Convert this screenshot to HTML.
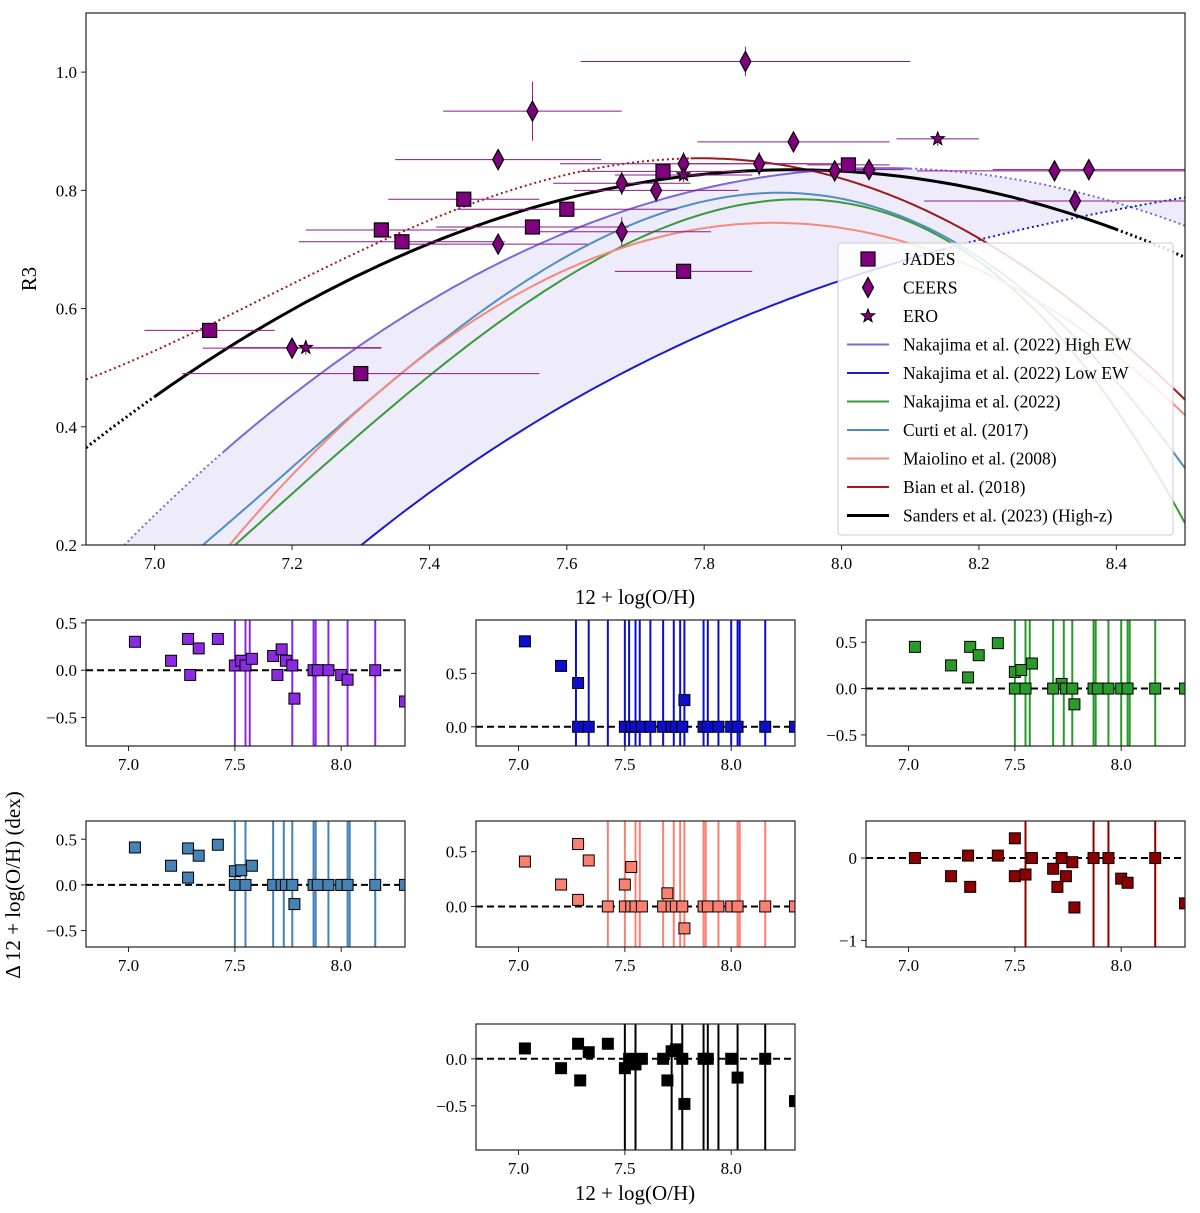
<!DOCTYPE html>
<html><head><meta charset="utf-8">
<style>
body{margin:0;background:#fff;}
svg{display:block;font-family:"Liberation Serif","DejaVu Serif",serif;}
</style></head>
<body>
<svg id="fig" width="1200" height="1213" viewBox="0 0 1200 1213" xmlns="http://www.w3.org/2000/svg">
<defs>
<clipPath id="mainclip"><rect x="86" y="13" width="1099" height="532"/></clipPath>
</defs>
<g id="main"></g>
<g id="panels"></g>
<text x="20" y="885" transform="rotate(-90 20 885)" text-anchor="middle" font-size="21">Δ 12 + log(O/H) (dex)</text>
</svg>
<script>
// ---------- main chart data ----------
const jadesX=[7.08,7.30,7.33,7.36,7.45,7.55,7.60,7.74,7.77,8.01];
const jadesY=[0.563,0.49,0.733,0.713,0.785,0.738,0.768,0.832,0.663,0.843];
const jadesXerr=[0.095,0.26,0.11,0.15,0.11,0.14,0.16,0.12,0.1,0.06];
const ceersX=[7.20,7.50,7.50,7.55,7.68,7.68,7.73,7.77,7.86,7.88,7.93,7.99,8.04,8.31,8.34,8.36];
const ceersY=[0.533,0.709,0.852,0.934,0.73,0.812,0.80,0.845,1.018,0.845,0.882,0.833,0.835,0.833,0.782,0.835];
const ceersXerr=[0.13,0.13,0.15,0.13,0.13,0.1,0.12,0.18,0.24,0.12,0.14,0.06,0.05,0.2,0.22,0.14];
const ceersYerr=[0.01,0.01,0.015,0.05,0.025,0.02,0.02,0.02,0.025,0.02,0.015,0.015,0.015,0.015,0.015,0.015];
const eroX=[7.22,7.77,8.14];
const eroY=[0.534,0.826,0.887];
const eroXerr=[0.11,0.1,0.06];
// calibration curves: anchor points (OH, R3)
const curveNames=["Nakajima et al. (2022) High EW","Nakajima et al. (2022) Low EW","Nakajima et al. (2022)","Curti et al. (2017)","Maiolino et al. (2008)","Bian et al. (2018)","Sanders et al. (2023) (High-z)"];
const curveColors=["#7b68d9","#1a1ad0","#3a9a3a","#4f8fc0","#f28b7c","#a01818","#000000"];
const curveAnchorX=[[6.956,7.245,7.774,8.5],[7.301,7.513,7.995,8.5],[7.117,7.407,7.774,8.168,8.5],[7.07,7.362,7.774,8.165,8.5],[7.109,7.362,7.774,8.165,8.5],[6.9,7.234,7.72,8.22,8.5],[7.0,7.346,7.774,8.4]];
const curveAnchorY=[[0.2,0.493,0.796,0.74],[0.2,0.378,0.646,0.788],[0.2,0.493,0.751,0.705,0.237],[0.2,0.493,0.774,0.712,0.33],[0.2,0.493,0.731,0.683,0.42],[0.48,0.661,0.85,0.705,0.446],[0.451,0.683,0.824,0.734]];
const curveSolidFrom=[7.1,6.9,6.9,6.9,6.9,7.78,7.0];
const curveSolidTo=[8.1,8.15,8.5,8.5,8.5,8.5,8.4];
const curveWidths=[2,2,2,2,2,2,3];

// ---------- residual panels data ----------
const panelColors=["#8a2be2","#0d0dcc","#2a9a2a","#4682b4","#fa8072","#8b0000","#000000"];
const panelYmin=[-0.8,-0.18,-0.62,-0.68,-0.37,-1.08,-0.97];
const panelYmax=[0.53,1.0,0.74,0.70,0.78,0.45,0.37];
const panelYticks=[[-0.5,0,0.5],[0,0.5],[-0.5,0,0.5],[-0.5,0,0.5],[0,0.5],[-1,0],[-0.5,0]];
const panelYtickLabels=[["−0.5","0.0","0.5"],["0.0","0.5"],["−0.5","0.0","0.5"],["−0.5","0.0","0.5"],["0.0","0.5"],["−1","0"],["−0.5","0.0"]];
const panelPtX=[
[7.03,7.2,7.28,7.29,7.33,7.42,7.5,7.53,7.55,7.58,7.68,7.72,7.74,7.77,7.78,7.7,7.87,7.89,7.94,8.0,8.03,8.16,8.3],
[7.03,7.2,7.28,7.78,7.28,7.33,7.5,7.53,7.55,7.58,7.62,7.68,7.72,7.74,7.77,7.87,7.89,7.94,8.0,8.03,8.16,8.3],
[7.03,7.2,7.28,7.29,7.33,7.42,7.5,7.53,7.58,7.72,7.78,7.5,7.55,7.68,7.74,7.77,7.87,7.89,7.94,8.0,8.03,8.16,8.3],
[7.03,7.2,7.28,7.28,7.33,7.42,7.5,7.53,7.58,7.78,7.5,7.55,7.68,7.72,7.74,7.77,7.87,7.89,7.94,8.0,8.03,8.16,8.3],
[7.03,7.2,7.28,7.28,7.33,7.5,7.53,7.7,7.78,7.42,7.5,7.53,7.55,7.58,7.68,7.72,7.74,7.77,7.87,7.89,7.94,8.0,8.03,8.16,8.3],
[7.03,7.2,7.28,7.29,7.42,7.5,7.5,7.55,7.58,7.68,7.7,7.72,7.74,7.77,7.78,7.87,7.94,8.0,8.03,8.16,8.3],
[7.03,7.2,7.28,7.29,7.33,7.42,7.5,7.52,7.55,7.58,7.68,7.7,7.72,7.74,7.77,7.78,7.87,7.89,8.0,8.03,8.16,8.3]];
const panelPtY=[
[0.3,0.1,0.33,-0.05,0.23,0.33,0.05,0.1,0.05,0.12,0.15,0.22,0.1,0.05,-0.3,-0.05,0,0,0,-0.05,-0.1,0,-0.33],
[0.8,0.57,0.41,0.25,0,0,0,0,0,0,0,0,0,0,0,0,0,0,0,0,0,0],
[0.45,0.25,0.12,0.45,0.36,0.49,0.18,0.2,0.27,0.05,-0.17,0,0,0,0,0,0,0,0,0,0,0,0],
[0.41,0.21,0.08,0.4,0.32,0.44,0.15,0.16,0.21,-0.21,0,0,0,0,0,0,0,0,0,0,0,0,0],
[0.41,0.2,0.57,0.06,0.42,0.2,0.36,0.12,-0.2,0,0,0,0,0,0,0,0,0,0,0,0,0,0,0,0],
[0,-0.22,0.03,-0.35,0.03,-0.22,0.24,-0.2,0,-0.13,-0.35,0,-0.22,-0.05,-0.6,0,0,-0.25,-0.3,0,-0.55],
[0.11,-0.1,0.16,-0.23,0.07,0.16,-0.1,0,-0.06,0,0,-0.23,0.08,0.1,0,-0.48,0,0,0,-0.2,0,-0.45]];
const panelLines=[
[7.5,7.55,7.57,7.77,7.87,7.88,7.94,8.03,8.16],
[7.27,7.33,7.42,7.5,7.52,7.55,7.57,7.62,7.68,7.73,7.76,7.78,7.87,7.89,7.94,8.0,8.03,8.04,8.16],
[7.5,7.55,7.57,7.68,7.73,7.77,7.87,7.88,7.94,8.0,8.03,8.04,8.16],
[7.5,7.55,7.68,7.73,7.77,7.87,7.88,7.94,8.03,8.04,8.16],
[7.42,7.5,7.55,7.57,7.68,7.73,7.76,7.78,7.87,7.88,7.94,8.03,8.04,8.16],
[7.55,7.87,7.94,8.16],
[7.5,7.55,7.72,7.77,7.87,7.89,7.94,8.03,8.16]];
const panelTicksX=[7.0,7.5,8.0];
const panelTickLabelsX=["7.0","7.5","8.0"];
const mainTicksX=[7.0,7.2,7.4,7.6,7.8,8.0,8.2,8.4];
const mainTickLabelsX=["7.0","7.2","7.4","7.6","7.8","8.0","8.2","8.4"];
const mainTicksY=[0.2,0.4,0.6,0.8,1.0];
const mainTickLabelsY=["0.2","0.4","0.6","0.8","1.0"];

const NS="http://www.w3.org/2000/svg";
function mk(tag,attrs,parent){const e=document.createElementNS(NS,tag);for(const k in attrs)e.setAttribute(k,attrs[k]);parent.appendChild(e);return e;}
const main=document.getElementById('main');
const L=86,R=1185,T=13,B=545,X0=6.9,X1=8.5,Y0=0.2,Y1=1.1;
const sx=v=>L+(v-X0)/(X1-X0)*(R-L);
const sy=v=>B-(v-Y0)/(Y1-Y0)*(B-T);
function lag(xs,ys,x){let s=0;for(let i=0;i<xs.length;i++){let p=ys[i];for(let j=0;j<xs.length;j++)if(j!==i)p*=(x-xs[j])/(xs[i]-xs[j]);s+=p;}return s;}
function curvePts(i,a,b){const pts=[];for(let k=0;k<=120;k++){const x=a+(b-a)*k/120;pts.push(sx(x).toFixed(1)+','+sy(lag(curveAnchorX[i],curveAnchorY[i],x)).toFixed(1));}return pts.join(' ');}

const clipG=mk('g',{'clip-path':'url(#mainclip)'},main);
{const a=6.9,b=8.5;const up=[],lo=[];for(let k=0;k<=120;k++){const x=a+(b-a)*k/120;up.push(sx(x).toFixed(1)+','+sy(lag(curveAnchorX[0],curveAnchorY[0],x)).toFixed(1));}
for(let k=120;k>=0;k--){const x=a+(b-a)*k/120;lo.push(sx(x).toFixed(1)+','+sy(lag(curveAnchorX[1],curveAnchorY[1],x)).toFixed(1));}
const p=mk('polygon',{points:up.concat(lo).join(' '),fill:'#ebe8fa',opacity:'0.85'},clipG);

}
for(let i=0;i<curveNames.length;i++){
  const g=mk('g',{},clipG);
  
  
  const s0=curveSolidFrom[i],s1=curveSolidTo[i];
  if(s0>X0) mk('polyline',{points:curvePts(i,X0,s0),fill:'none',stroke:curveColors[i],'stroke-width':curveWidths[i],'stroke-dasharray':'2,3'},g);
  mk('polyline',{points:curvePts(i,s0,s1),fill:'none',stroke:curveColors[i],'stroke-width':curveWidths[i]},g);
  if(s1<X1) mk('polyline',{points:curvePts(i,s1,X1),fill:'none',stroke:curveColors[i],'stroke-width':curveWidths[i],'stroke-dasharray':'2,3'},g);
}
const ebc='#8b1a8b';
function errbars(xs,ys,xe,ye,name){for(let i=0;i<xs.length;i++){
  const g=mk('g',{},clipG);
  
  
  mk('line',{x1:sx(xs[i]-xe[i]),x2:sx(xs[i]+xe[i]),y1:sy(ys[i]),y2:sy(ys[i]),stroke:ebc,'stroke-width':1},g);
  const e=ye?ye[i]:0.012;
  mk('line',{x1:sx(xs[i]),x2:sx(xs[i]),y1:sy(ys[i]-e),y2:sy(ys[i]+e),stroke:ebc,'stroke-width':1},g);}}
errbars(jadesX,jadesY,jadesXerr,null,'jades');
errbars(ceersX,ceersY,ceersXerr,ceersYerr,'ceers');
errbars(eroX,eroY,eroXerr,null,'ero');
const mfill='#800080';
function square(cx,cy,s,parent){return mk('rect',{x:cx-s/2,y:cy-s/2,width:s,height:s,fill:mfill,stroke:'#000','stroke-width':1.2},parent);}
function diamond(cx,cy,parent){return mk('polygon',{points:`${cx},${cy-10} ${cx+5.5},${cy} ${cx},${cy+10} ${cx-5.5},${cy}`,fill:mfill,stroke:'#000','stroke-width':1.2},parent);}
function star(cx,cy,r,parent){const p=[];for(let k=0;k<10;k++){const a=-Math.PI/2+k*Math.PI/5;const rr=k%2?r*0.42:r;p.push((cx+rr*Math.cos(a)).toFixed(1)+','+(cy+rr*Math.sin(a)).toFixed(1));}return mk('polygon',{points:p.join(' '),fill:mfill,stroke:'#000','stroke-width':1},parent);}
for(let i=0;i<jadesX.length;i++){const e=square(sx(jadesX[i]),sy(jadesY[i]),14,clipG);
  
  }
for(let i=0;i<ceersX.length;i++){const e=diamond(sx(ceersX[i]),sy(ceersY[i]),clipG);
  
  }
for(let i=0;i<eroX.length;i++){const e=star(sx(eroX[i]),sy(eroY[i]),7,clipG);
  
  }
mk('rect',{x:L,y:T,width:R-L,height:B-T,fill:'none',stroke:'#222','stroke-width':1.2},main);
for(let i=0;i<mainTicksX.length;i++){const x=sx(mainTicksX[i]);mk('line',{x1:x,x2:x,y1:B,y2:B+5,stroke:'#222'},main);
  const t=mk('text',{x:x,y:B+24,'text-anchor':'middle','font-size':17},main);t.textContent=mainTickLabelsX[i];
  
  }
for(let i=0;i<mainTicksY.length;i++){const y=sy(mainTicksY[i]);mk('line',{x1:L-5,x2:L,y1:y,y2:y,stroke:'#222'},main);
  const t=mk('text',{x:L-9,y:y+6,'text-anchor':'end','font-size':17},main);t.textContent=mainTickLabelsY[i];
  
  }
{const t=mk('text',{x:635,y:604,'text-anchor':'middle','font-size':21},main);t.textContent='12 + log(O/H)';
 
 
 const u=mk('text',{x:36,y:279,'text-anchor':'middle','font-size':21,transform:'rotate(-90 36 279)'},main);u.textContent='R3';
 
 }
{const lg=mk('g',{},main);
 
 
 mk('rect',{x:838,y:243,width:335,height:292,fill:'#fff','fill-opacity':0.85,stroke:'#ccc',rx:3},lg);
 const labels=['JADES','CEERS','ERO'].concat(curveNames);
 for(let k=0;k<labels.length;k++){const y=259+k*28.5;
  const en=mk('g',{},lg);
  
  
  if(k===0)square(868,y,14,en);else if(k===1)diamond(868,y,en);else if(k===2)star(868,y,7,en);
  else mk('line',{x1:847,x2:889,y1:y,y2:y,stroke:curveColors[k-3],'stroke-width':curveWidths[k-3]},en);
  const t=mk('text',{x:903,y:y+6,'font-size':17.5},en);t.textContent=labels[k];}}

const panelsG=document.getElementById('panels');
const pBoxes=[[86,620],[476,620],[866,620],[86,821],[476,821],[866,821],[476,1024]];
const PW=319,PH=126,PX0=6.8,PX1=8.3;
for(let p=0;p<7;p++){
  const [l,t]=pBoxes[p];const g=mk('g',{},panelsG);
  
  
  const cid='pc'+p;const cp=mk('clipPath',{id:cid},g);mk('rect',{x:l,y:t,width:PW,height:PH},cp);
  const px=v=>l+(v-PX0)/(PX1-PX0)*PW;
  const py=v=>t+PH-(v-panelYmin[p])/(panelYmax[p]-panelYmin[p])*PH;
  const cg=mk('g',{'clip-path':`url(#${cid})`},g);
  for(const x of panelLines[p]){const e=mk('line',{x1:px(x),x2:px(x),y1:t,y2:t+PH,stroke:panelColors[p],'stroke-width':2},cg);
    
    }
  mk('line',{x1:l,x2:l+PW,y1:py(0),y2:py(0),stroke:'#000','stroke-width':2,'stroke-dasharray':'7,4'},cg);
  for(let i=0;i<panelPtX[p].length;i++){const e=mk('rect',{x:px(panelPtX[p][i])-5.5,y:py(panelPtY[p][i])-5.5,width:11,height:11,fill:panelColors[p],stroke:'#000','stroke-width':1},cg);
    
    }
  mk('rect',{x:l,y:t,width:PW,height:PH,fill:'none',stroke:'#222','stroke-width':1.2},g);
  for(let i=0;i<panelTicksX.length;i++){const x=px(panelTicksX[i]);mk('line',{x1:x,x2:x,y1:t+PH,y2:t+PH+5,stroke:'#222'},g);
    const tx=mk('text',{x:x,y:t+PH+24,'text-anchor':'middle','font-size':17},g);tx.textContent=panelTickLabelsX[i];}
  for(let i=0;i<panelYticks[p].length;i++){const y=py(panelYticks[p][i]);mk('line',{x1:l-5,x2:l,y1:y,y2:y,stroke:'#222'},g);
    const tx=mk('text',{x:l-9,y:y+6,'text-anchor':'end','font-size':17},g);tx.textContent=panelYtickLabels[p][i];}
}
{const t=mk('text',{x:635,y:1200,'text-anchor':'middle','font-size':21},panelsG);t.textContent='12 + log(O/H)';
 
 }
</script>
</body></html>
